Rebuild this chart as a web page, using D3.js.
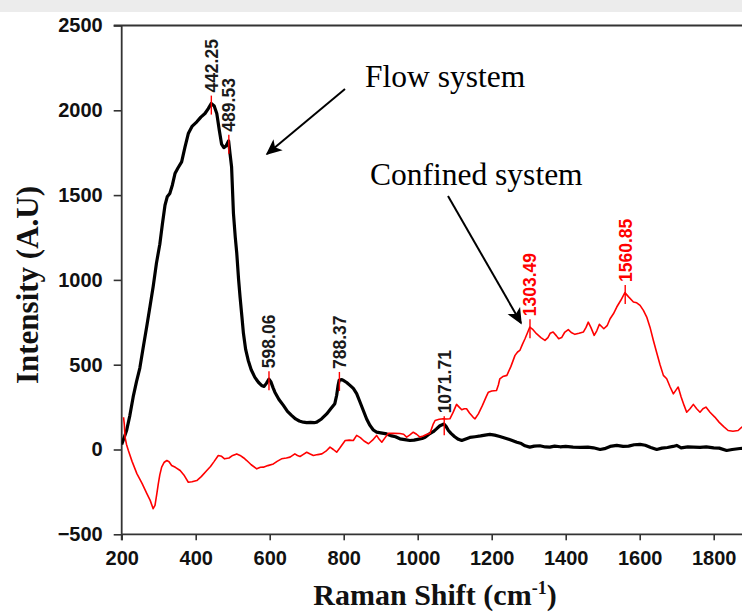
<!DOCTYPE html>
<html><head><meta charset="utf-8">
<script src="https://cdn.jsdelivr.net/npm/d3@7"></script>
<style>body{margin:0;background:#fff;}svg{display:block;}</style>
</head><body>
<svg id="c" width="742" height="614"></svg>
<script>
// ---- data ----
const flowX = [200,205,213,222,231,240,249,258,268,277,285,294,303,310,317,323,330,337,344,352,362,371,380,390,403,414,425,434,442,450,457,464,470,476,482,489,493,497,502,507,511,516,520,525,529,535,542,550,560,570,578,585,591,598,603,609,614,625,637,648,659,670,680,691,700,710,720,727,740,754,765,776,781,785,788,795,799,808,817,826,835,844,853,862,871,880,889,900,916,930,940,952,965,979,990,1000,1012,1020,1033,1042,1050,1060,1071,1077,1083,1090,1100,1110,1119,1130,1141,1155,1170,1182,1195,1208,1222,1235,1250,1268,1280,1290,1303,1315,1330,1345,1357,1370,1385,1400,1420,1440,1460,1475,1493,1505,1520,1538,1555,1570,1585,1601,1615,1630,1646,1660,1675,1690,1700,1712,1730,1745,1763,1780,1800,1815,1835,1850,1871,1890];
const flowY = [30,60,110,200,310,400,480,600,730,850,960,1100,1210,1330,1440,1490,1509,1560,1627,1660,1696,1783,1863,1905,1932,1960,1981,2010,2040,2025,1981,1880,1800,1780,1790,1820,1740,1666,1393,1250,1157,1000,897,780,685,590,525,470,425,395,378,372,390,415,400,365,338,295,260,225,201,180,168,161,158,160,158,161,180,210,240,270,320,380,410,412,407,395,378,360,329,280,230,180,142,115,102,98,92,80,75,63,58,53,55,60,65,72,94,105,120,140,150,135,112,95,75,60,53,62,71,75,80,85,89,85,77,68,58,43,35,22,14,20,22,15,14,20,16,18,14,12,14,10,0,5,18,24,18,20,28,30,25,12,0,8,12,18,24,10,15,14,12,15,10,8,-6,0,6,8];

const confX = [205,207,209,213,218,228,241,255,268,277,285,290,295,299,303,308,315,322,328,335,345,358,368,380,390,403,415,430,440,450,461,470,478,490,500,511,520,530,538,550,565,575,583,595,610,620,632,645,655,668,675,682,690,700,708,718,730,741,752,763,772,781,790,804,815,826,835,845,855,867,878,889,896,903,912,921,935,952,962,970,978,988,997,1006,1015,1025,1033,1042,1047,1058,1069,1078,1087,1096,1105,1112,1119,1126,1132,1140,1150,1155,1164,1175,1185,1191,1200,1213,1218,1222,1230,1241,1252,1263,1270,1276,1283,1290,1297,1303,1310,1321,1333,1344,1352,1358,1366,1375,1381,1389,1397,1407,1415,1425,1436,1448,1455,1461,1468,1477,1484,1491,1497,1503,1512,1520,1529,1538,1549,1560,1570,1583,1592,1601,1610,1619,1628,1637,1646,1655,1664,1673,1682,1691,1698,1704,1712,1720,1727,1736,1745,1754,1763,1771,1779,1790,1803,1815,1827,1839,1852,1866,1876,1890];
const confY = [190,150,73,30,-6,-70,-142,-200,-260,-300,-349,-330,-260,-201,-150,-104,-75,-65,-72,-94,-105,-124,-150,-193,-190,-183,-160,-124,-100,-70,-35,-40,-55,-50,-35,-26,-35,-50,-65,-90,-114,-105,-104,-95,-85,-70,-55,-50,-45,-26,-35,-41,-30,-16,-25,-35,-30,-26,-10,14,0,-16,10,53,55,53,83,70,50,34,55,83,60,43,70,96,95,94,90,73,85,102,90,73,80,90,94,150,171,178,181,180,181,220,266,250,234,240,240,215,190,181,210,260,310,338,345,348,380,417,430,437,490,555,575,584,620,653,690,722,710,683,660,643,660,685,693,670,653,660,690,707,690,679,685,693,720,751,720,673,700,738,725,712,730,771,800,840,880,925,900,870,865,850,820,781,720,643,570,500,437,417,370,328,350,368,310,260,220,240,266,240,220,240,250,220,191,160,135,112,108,112,132,145];

const flowPeaks = [442.25, 489.53, 598.06, 788.37, 1071.71];
const confPeaks = [1303.49, 1560.85];

const xTicks = [200,400,600,800,1000,1200,1400,1600,1800];
const yTicks = [-500,0,500,1000,1500,2000,2500];

const xTitle = "Raman Shift (cm";
const xTitleSup = "-1";
const yTitle = "Intensity (A.U)";
const flowName = "Flow system";
const confName = "Confined system";

// ---- layout ----
const svg = d3.select("#c");
const L = 121.7, T = 25.5, B = 534.3;
const x = d3.scaleLinear().domain([200, 1900]).range([L, L + 1700 * 0.37]);
const y = d3.scaleLinear().domain([-500, 2500]).range([B, T]);
const sans = "'Liberation Sans', Arial, sans-serif";
const serif = "'Liberation Serif', 'Times New Roman', serif";

// faint top band
svg.append("rect").attr("x",0).attr("y",0).attr("width",742).attr("height",12).attr("fill","#ececec");

const defs = svg.append("defs");
defs.append("clipPath").attr("id","clip")
  .append("rect").attr("x",L).attr("y",T-20).attr("width",742-L).attr("height",B-T+20);

// axes
const axisColor = "#333";
const gx = svg.append("g").attr("transform",`translate(0,${B})`)
  .call(d3.axisBottom(x).tickValues(d3.range(300,1901,200)).tickSize(4).tickFormat(""));
gx.call(d3.axisBottom(x).tickValues(xTicks).tickSize(6).tickPadding(9).tickFormat(d3.format("d")));
const gy = svg.append("g").attr("transform",`translate(${L},0)`)
  .call(d3.axisLeft(y).tickValues(d3.range(-250,2500,500)).tickSize(4).tickFormat(""));
gy.call(d3.axisLeft(y).tickValues(yTicks).tickSize(8).tickPadding(11).tickFormat(d3.format("d")));
svg.selectAll(".domain").remove();
svg.selectAll(".tick line").attr("stroke",axisColor).attr("stroke-width",1.6);
svg.selectAll(".tick text").attr("font-family",sans).attr("font-weight","bold").attr("font-size",20).attr("fill","#111");
gx.selectAll(".tick text").attr("dy","0.78em");
// axis lines
svg.append("line").attr("x1",L).attr("x2",742).attr("y1",B).attr("y2",B).attr("stroke",axisColor).attr("stroke-width",1.8);
svg.append("line").attr("x1",L).attr("x2",L).attr("y1",T).attr("y2",B+6).attr("stroke",axisColor).attr("stroke-width",1.8);
svg.append("line").attr("x1",L-8).attr("x2",742).attr("y1",T).attr("y2",T).attr("stroke",axisColor).attr("stroke-width",1.8);

// lines
const line = d3.line().x(d=>x(d[0])).y(d=>y(d[1]));
const flow = flowX.map((v,i)=>[v,flowY[i]]);
const conf = confX.map((v,i)=>[v,confY[i]]);
const plot = svg.append("g").attr("clip-path","url(#clip)");
plot.append("path").datum(flow).attr("d",line).attr("fill","none").attr("stroke","#000").attr("stroke-width",3.2).attr("stroke-linejoin","round");
plot.append("path").datum(conf).attr("d",line).attr("fill","none").attr("stroke","#ff0000").attr("stroke-width",1.6).attr("stroke-linejoin","round");

// peak labels
function valAt(data, xv){
  const i = d3.bisector(d=>d[0]).left(data, xv);
  if (i<=0) return data[0][1];
  const a=data[i-1], b=data[i]; const t=(xv-a[0])/(b[0]-a[0]);
  return a[1]+t*(b[1]-a[1]);
}
function peaks(list, data, textColor){
  list.forEach(p=>{
    const px = x(p), py = y(valAt(data,p));
    svg.append("line").attr("x1",px).attr("x2",px).attr("y1",py-8).attr("y2",py+11).attr("stroke","#ff0000").attr("stroke-width",1.4);
    svg.append("text").attr("transform",`translate(${px},${py-11}) rotate(-90)`)
      .attr("dy","0.36em").attr("font-family",sans).attr("font-weight","bold").attr("font-size",17.5).attr("fill",textColor).text(d3.format(".2f")(p));
  });
}
peaks(flowPeaks, flow, "#1a1a1a");
peaks(confPeaks, conf, "#ff0000");

// annotations
defs.append("marker").attr("id","ah").attr("viewBox","0 0 10 10").attr("refX",9).attr("refY",5)
  .attr("markerWidth",8).attr("markerHeight",8).attr("orient","auto").attr("markerUnits","strokeWidth")
  .append("path").attr("d","M0,0.5 L10,5 L0,9.5 L2.5,5 Z").attr("fill","#000");
svg.append("text").attr("x",365).attr("y",87).attr("font-family",serif).attr("font-size",31.5).attr("fill","#000").text(flowName);
svg.append("line").attr("x1",345).attr("y1",89).attr("x2",267).attr("y2",154).attr("stroke","#000").attr("stroke-width",2).attr("marker-end","url(#ah)");
svg.append("text").attr("x",370).attr("y",185).attr("font-family",serif).attr("font-size",31.5).attr("fill","#000").text(confName);
svg.append("line").attr("x1",448).attr("y1",196).attr("x2",521).attr("y2",323).attr("stroke","#000").attr("stroke-width",2).attr("marker-end","url(#ah)");

// axis titles
const xt = svg.append("text").attr("x",435).attr("y",605).attr("text-anchor","middle")
  .attr("font-family",serif).attr("font-weight","bold").attr("font-size",30).attr("fill","#111");
xt.append("tspan").text(xTitle);
xt.append("tspan").attr("font-size",18).attr("dy",-11).text(xTitleSup);
xt.append("tspan").attr("dy",11).text(")");
svg.append("text").attr("transform","translate(38,285) rotate(-90)").attr("text-anchor","middle")
  .attr("font-family",serif).attr("font-weight","bold").attr("font-size",31).attr("fill","#111").text(yTitle);
</script>
</body></html>
